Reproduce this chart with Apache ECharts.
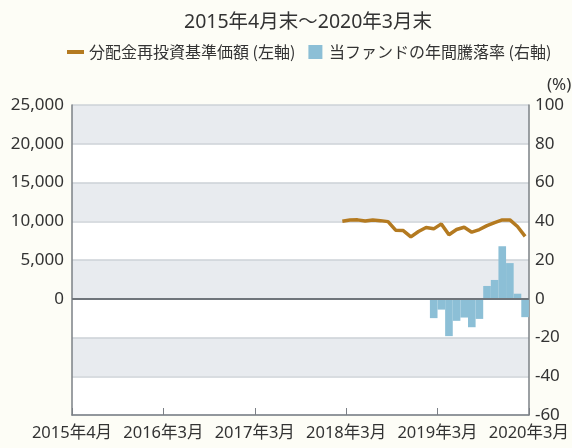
<!DOCTYPE html>
<html>
<head>
<meta charset="utf-8">
<script src="https://cdn.jsdelivr.net/npm/echarts@6/dist/echarts.min.js"></script>
<style>
html, body { margin: 0; padding: 0; background: #fdfdf6; }
#main { width: 572px; height: 448px; }
</style>
</head>
<body>
<div id="main"></div>
<script>
// 2015年4月 ～ 2020年3月 の月次カテゴリ (60本)
var months = [];
for (var i = 0; i < 60; i++) {
    var m = 3 + i;
    months.push((2015 + Math.floor(m / 12)) + '/' + (m % 12 + 1));
}
var tickLabels = ['2015年4月', '2016年3月', '2017年3月', '2018年3月', '2019年3月', '2020年3月'];

// 分配金再投資基準価額 2018/3 ～ 2020/3
var navStart = 35;
var navValues = [10000, 10150, 10180, 10020, 10150, 10080, 9950, 8850, 8800, 7990, 8680, 9190,
    9020, 9660, 8250, 8930, 9230, 8590, 8930, 9440, 9830, 10170, 10170, 9320, 8040];

// 年間騰落率 2019/3 ～ 2020/3
var retStart = 47;
var returnValues = [-10.0, -5.6, -19.3, -11.4, -9.7, -14.7, -10.4, 6.6, 9.7, 27.1, 18.4, 2.6, -9.5];

function pad(start, vals) {
    var out = [];
    for (var i = 0; i < months.length; i++) {
        var k = i - start;
        out.push(k >= 0 && k < vals.length ? vals[k] : null);
    }
    return out;
}

var FONT = '"Noto Sans", "Noto Sans CJK JP", sans-serif';
var CJK = '"Noto Sans CJK JP", sans-serif';
var axisColor = '#7b8086';

var myChart = echarts.init(document.getElementById('main'));
var option = {
    backgroundColor: '#fdfdf6',
    textStyle: { fontFamily: FONT },
    title: {
        text: '2015年4月末～2020年3月末',
        left: 303,
        textAlign: 'center',
        top: 8,
        textStyle: { fontFamily: FONT, fontSize: 19.5, fontWeight: 'normal', color: '#333' }
    },
    legend: {
        left: 62,
        top: 39,
        itemWidth: 17,
        itemHeight: 14,
        itemGap: 13,
        textStyle: { fontFamily: CJK, fontSize: 16, color: '#333' },
        data: [
            { name: '分配金再投資基準価額 (左軸)', icon: 'path://M0,0H17V4H0Z' },
            { name: '当ファンドの年間騰落率 (右軸)', icon: 'path://M0,0H14V14H0Z' }
        ]
    },
    graphic: [
        {
            type: 'text',
            left: 547,
            top: 77,
            style: { text: '(%)', fontFamily: FONT, fontSize: 17, fill: '#333' }
        }
    ],
    grid: { left: 72, right: 38, top: 105, bottom: 33 },
    xAxis: [
        {
            type: 'category',
            position: 'top',
            data: months,
            boundaryGap: true,
            axisLabel: { show: false },
            axisTick: { show: false },
            axisLine: { show: true, lineStyle: { color: '#aab0b6', width: 1 } }
        },
        {
            type: 'value',
            position: 'bottom',
            min: 0,
            max: 60,
            interval: 12,
            splitLine: { show: false },
            axisLine: { show: true, onZero: false, lineStyle: { color: axisColor, width: 1.5 } },
            axisTick: { show: true, inside: true, length: 7, lineStyle: { color: axisColor } },
            axisLabel: {
                fontFamily: FONT, fontSize: 16.5, color: '#333', margin: 10,
                formatter: function (v) { return tickLabels[Math.round(v / 12)]; }
            }
        }
    ],
    yAxis: [
        {
            type: 'value',
            min: -15000,
            max: 25000,
            interval: 5000,
            axisLine: { show: true, onZero: false, lineStyle: { color: axisColor, width: 1.5 } },
            axisTick: { show: false },
            axisLabel: {
                fontFamily: FONT, fontSize: 17, color: '#333', margin: 8,
                formatter: function (v) { return v < 0 ? '' : echarts.format.addCommas(v); }
            },
            splitLine: { show: true, lineStyle: { color: '#cdd2d7', width: 1.5 } },
            splitArea: { show: true, areaStyle: { color: ['#ffffff', '#e8ebef'] } }
        },
        {
            type: 'value',
            min: -60,
            max: 100,
            interval: 20,
            axisLine: { show: true, onZero: false, lineStyle: { color: axisColor, width: 1.5 } },
            axisTick: { show: false },
            axisLabel: { fontFamily: FONT, fontSize: 17, color: '#333', margin: 6 },
            splitLine: { show: false }
        }
    ],
    series: [
        {
            name: '当ファンドの年間騰落率 (右軸)',
            type: 'bar',
            xAxisIndex: 0,
            yAxisIndex: 1,
            barWidth: '100%',
            itemStyle: { color: '#8cbfd6' },
            data: pad(retStart, returnValues),
            markLine: {
                silent: true,
                symbol: 'none',
                label: { show: false },
                lineStyle: { color: '#6f757b', width: 2, type: 'solid' },
                data: [{ yAxis: 0 }]
            }
        },
        {
            name: '分配金再投資基準価額 (左軸)',
            type: 'line',
            xAxisIndex: 0,
            yAxisIndex: 0,
            showSymbol: false,
            connectNulls: false,
            lineStyle: { color: '#b47a20', width: 3.5 },
            itemStyle: { color: '#b47a20' },
            data: pad(navStart, navValues)
        }
    ]
};
myChart.setOption(option);
</script>
</body>
</html>
